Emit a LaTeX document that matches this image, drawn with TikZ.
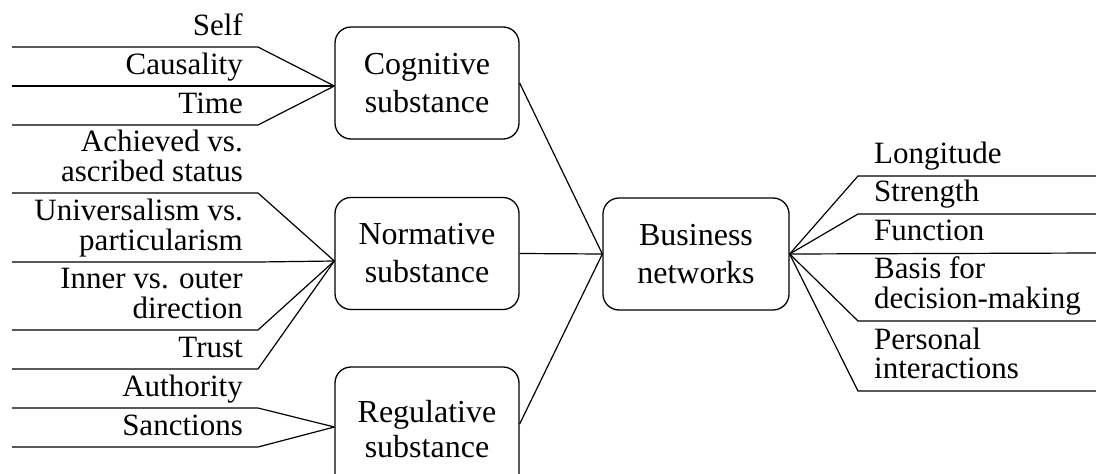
\documentclass[tikz,border=0pt]{standalone}
\usepackage{fontspec}
\setmainfont{Liberation Serif}
\usetikzlibrary{calc}
\begin{document}
\begin{tikzpicture}[x=1pt,y=-1pt,
  box/.style={draw, line width=1.3pt, rounded corners=16pt, minimum width=184pt,
    minimum height=112pt, align=center, font=\fontsize{32}{38}\selectfont, inner sep=0pt},
  lbl/.style={inner sep=0pt, font=\fontsize{31}{27}\selectfont},
  ln/.style={line width=1.2pt, line join=miter}]
\useasboundingbox (0,0) rectangle (1096,474);
\clip (0,0) rectangle (1096,474);

% main boxes
\node[box] (cog) at (427,83) {Cognitive\\substance};
\node[box] (nor) at (427,253.5) {Normative\\substance};
\node[box, minimum height=124pt, font=\fontsize{32}{35}\selectfont] (reg) at (427,429) {Regulative\\substance};
\node[box, minimum width=186pt] (bus) at (696,254) {Business\\networks};

% convergence points on the box edges
\coordinate (cogin) at ($(cog.west)+(0,3)$);
\coordinate (norin) at ($(nor.west)+(0,7.5)$);
\coordinate (regin) at ($(reg.west)+(0,-2)$);
\coordinate (busin) at (bus.west);
\coordinate (busout) at (bus.east);
\coordinate (regout) at ($(reg.east)+(0,-5)$);

% left labels
\node[lbl, anchor=base east] (l1) at (243,35) {Self};
\node[lbl, anchor=base east] (l2) at (243,74) {Causality};
\node[lbl, anchor=base east] (l3) at (243,113) {Time};
\node[lbl, anchor=base east] (l4) at (243,181) {\begin{tabular}[b]{@{}r@{}}Achieved vs.\\ascribed status\end{tabular}};
\node[lbl, anchor=base east] (l5) at (243,250) {\begin{tabular}[b]{@{}r@{}}Universalism vs.\\particularism\end{tabular}};
\node[lbl, anchor=base east] (l6) at (243,318) {\begin{tabular}[b]{@{}r@{}}Inner vs. outer\\direction\end{tabular}};
\node[lbl, anchor=base east] (l7) at (243,357) {Trust};
\node[lbl, anchor=base east] (l8) at (243,396) {Authority};
\node[lbl, anchor=base east] (l9) at (243,435) {Sanctions};

% left lines
\foreach \y/\t in {47/cogin,86/cogin,125/cogin,193/norin,262/norin,330/norin,369/norin,408/regin,447/regin}{
  \coordinate (s\y) at (12,\y);
  \coordinate (k\y) at (258,\y);
  \draw[ln] (s\y) -- (k\y) -- (\t);
}

% box to business
\draw[ln] (cog.east) -- (busin);
\draw[ln] (nor.east) -- (busin);
\draw[ln] (regout) -- (busin);

% right labels
\node[lbl, anchor=base west] (r1) at (874,163.5) {Longitude};
\node[lbl, anchor=base west] (r2) at (874,201.5) {Strength};
\node[lbl, anchor=base west] (r3) at (874,240.5) {Function};
\node[lbl, anchor=base west] (r4) at (874,308.5) {\begin{tabular}[b]{@{}l@{}}Basis for\\decision-making\end{tabular}};
\node[lbl, anchor=base west] (r5) at (874,378) {\begin{tabular}[b]{@{}l@{}}Personal\\interactions\end{tabular}};

% right lines
\foreach \y in {176,214,321,391}{
  \coordinate (p\y) at (858,\y);
  \coordinate (e\y) at (1096,\y);
  \draw[ln] (busout) -- (p\y) -- (e\y);
}
\coordinate (e253) at (1096,253);
\draw[ln] (busout) -- (e253);
\end{tikzpicture}
\end{document}
